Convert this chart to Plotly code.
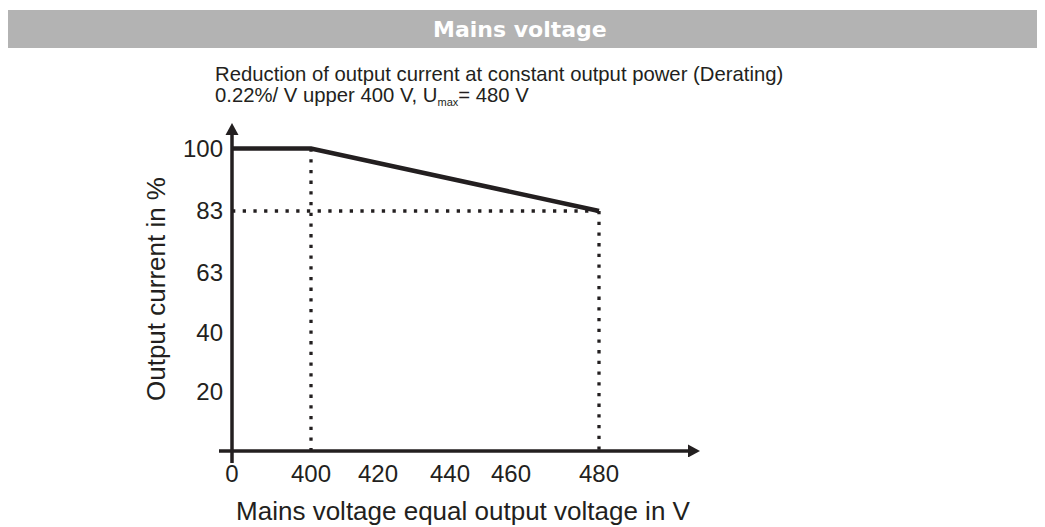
import numpy as np
import plotly.graph_objects as go

# ---------------- data ----------------
VOLTAGE = [0, 400, 480]          # V
CURRENT = [100, 100, 83]         # %
X_TICK_VALUES = [0, 400, 420, 440, 460, 480]
X_TICK_LABELS = ["0", "400", "420", "440", "460", "480"]
Y_TICK_VALUES = [20, 40, 63, 83, 100]
Y_TICK_LABELS = ["20", "40", "63", "83", "100"]

HEADER = "Mains voltage"
SUBTITLE_1 = "Reduction of output current at constant output power (Derating)"
SUBTITLE_2 = "0.22%/ V upper 400 V, U<sub><span style='font-size:11px'>max</span></sub>= 480 V"
X_TITLE = "Mains voltage equal output voltage in V"
Y_TITLE = "Output current in %"

# ---------------- schematic (non-linear) axis scales ----------------
X_SCALE_VALUES = [0, 400, 420, 440, 460, 480]
X_SCALE_POS = [0, 79, 146, 218, 279, 367]
Y_SCALE_VALUES = [0, 20, 40, 63, 83, 100]
Y_SCALE_POS = [0, 59, 118, 178, 240, 302.5]


def sx(v):
    return np.interp(v, X_SCALE_VALUES, X_SCALE_POS)


def sy(v):
    return np.interp(v, Y_SCALE_VALUES, Y_SCALE_POS)


# ---------------- layout geometry (page px; body margin 8 px) ----------------
W, H = 1045, 527
OFF = 8
X_RANGE = [-8, 470]
Y_RANGE = [-6, 330]
PW = X_RANGE[1] - X_RANGE[0]
PH = Y_RANGE[1] - Y_RANGE[0]
ML = 224 - OFF
MT = 121 - OFF
MR = W - ML - PW
MB = H - MT - PH

ARROW_LEN, ARROW_HALF = 12, 6.5
X_AXIS_TIP, Y_AXIS_TIP = 468, 328


def px(x):          # page x -> paper
    return (x - OFF - ML) / PW


def py(y):          # page y -> paper
    return (H - MB - (y - OFF)) / PH


INK = "#231f20"
FONT = "Arial, Liberation Sans, sans-serif"

fig = go.Figure()

knee_v, knee_c = VOLTAGE[1], CURRENT[1]
end_v, end_c = VOLTAGE[2], CURRENT[2]
dot = dict(color=INK, width=3.3, dash="3.3px,7.4px")

# dotted guide lines
fig.add_trace(go.Scatter(x=sx([knee_v, knee_v]), y=sy([knee_c, 0]), mode="lines",
                         line=dot, hoverinfo="skip", showlegend=False))
fig.add_trace(go.Scatter(x=sx([0, end_v]), y=sy([end_c, end_c]), mode="lines",
                         line=dot, hoverinfo="skip", showlegend=False))
fig.add_trace(go.Scatter(x=sx([end_v, end_v]), y=sy([end_c, 0]), mode="lines",
                         line=dot, hoverinfo="skip", showlegend=False))

# derating curve
fig.add_trace(go.Scatter(x=sx(VOLTAGE), y=sy(CURRENT), mode="lines",
                         line=dict(color=INK, width=4.6), showlegend=False,
                         customdata=np.stack([VOLTAGE, CURRENT], axis=1),
                         hovertemplate="%{customdata[0]} V: %{customdata[1]} %<extra></extra>"))

shapes = [
    dict(type="rect", xref="paper", yref="paper", x0=px(5), x1=px(1037),
         y0=py(48), y1=py(10), fillcolor="#b3b3b3", line=dict(width=0), layer="below"),
    # x axis (starts a little left of the y axis)
    dict(type="line", xref="paper", yref="y", x0=px(219), x1=px(233 + X_AXIS_TIP - ARROW_LEN),
         y0=0, y1=0, line=dict(color=INK, width=3.5)),
    dict(type="path", xref="x", yref="y",
         path=f"M {X_AXIS_TIP},0 L {X_AXIS_TIP - ARROW_LEN},{ARROW_HALF} "
              f"L {X_AXIS_TIP - ARROW_LEN},{-ARROW_HALF} Z",
         fillcolor=INK, line=dict(width=0)),
    # y axis (extends a little below the x axis)
    dict(type="line", xref="x", yref="paper", x0=0, x1=0,
         y0=py(463), y1=py(451 - Y_AXIS_TIP + ARROW_LEN - 1), line=dict(color=INK, width=3.5)),
    dict(type="path", xref="x", yref="y",
         path=f"M 0,{Y_AXIS_TIP} L {ARROW_HALF},{Y_AXIS_TIP - ARROW_LEN} "
              f"L {-ARROW_HALF},{Y_AXIS_TIP - ARROW_LEN} Z",
         fillcolor=INK, line=dict(width=0)),
]

annotations = [
    dict(x=px(520), y=py(29), xref="paper", yref="paper", text="<b>" + HEADER + "</b>",
         showarrow=False, xanchor="center", yanchor="middle",
         font=dict(family="DejaVu Sans", size=22, color="white")),
    dict(x=px(213), y=py(74), xref="paper", yref="paper", text=SUBTITLE_1,
         showarrow=False, xanchor="left", yanchor="middle",
         font=dict(family=FONT, size=20.3, color=INK)),
    dict(x=px(213), y=py(96), xref="paper", yref="paper", text=SUBTITLE_2,
         showarrow=False, xanchor="left", yanchor="middle",
         font=dict(family=FONT, size=20.3, color=INK)),
]

fig.update_layout(
    width=W, height=H,
    margin=dict(l=ML, r=MR, t=MT, b=MB, pad=0),
    paper_bgcolor="white", plot_bgcolor="white",
    showlegend=False,
    annotations=annotations,
    shapes=shapes,
    xaxis=dict(range=X_RANGE, showgrid=False, zeroline=False, showline=False, ticks="",
               tickmode="array", tickvals=sx(X_TICK_VALUES), ticktext=X_TICK_LABELS,
               tickfont=dict(family=FONT, size=24, color=INK),
               title=dict(text=X_TITLE, font=dict(family=FONT, size=26, color=INK), standoff=15),
               fixedrange=True),
    yaxis=dict(range=Y_RANGE, showgrid=False, zeroline=False, showline=False, ticks="",
               tickmode="array", tickvals=sy(Y_TICK_VALUES), ticktext=Y_TICK_LABELS,
               tickfont=dict(family=FONT, size=24, color=INK),
               title=dict(text=Y_TITLE, font=dict(family=FONT, size=26, color=INK), standoff=9),
               fixedrange=True),
)

fig.write_html("out.html", config={"displayModeBar": False})
